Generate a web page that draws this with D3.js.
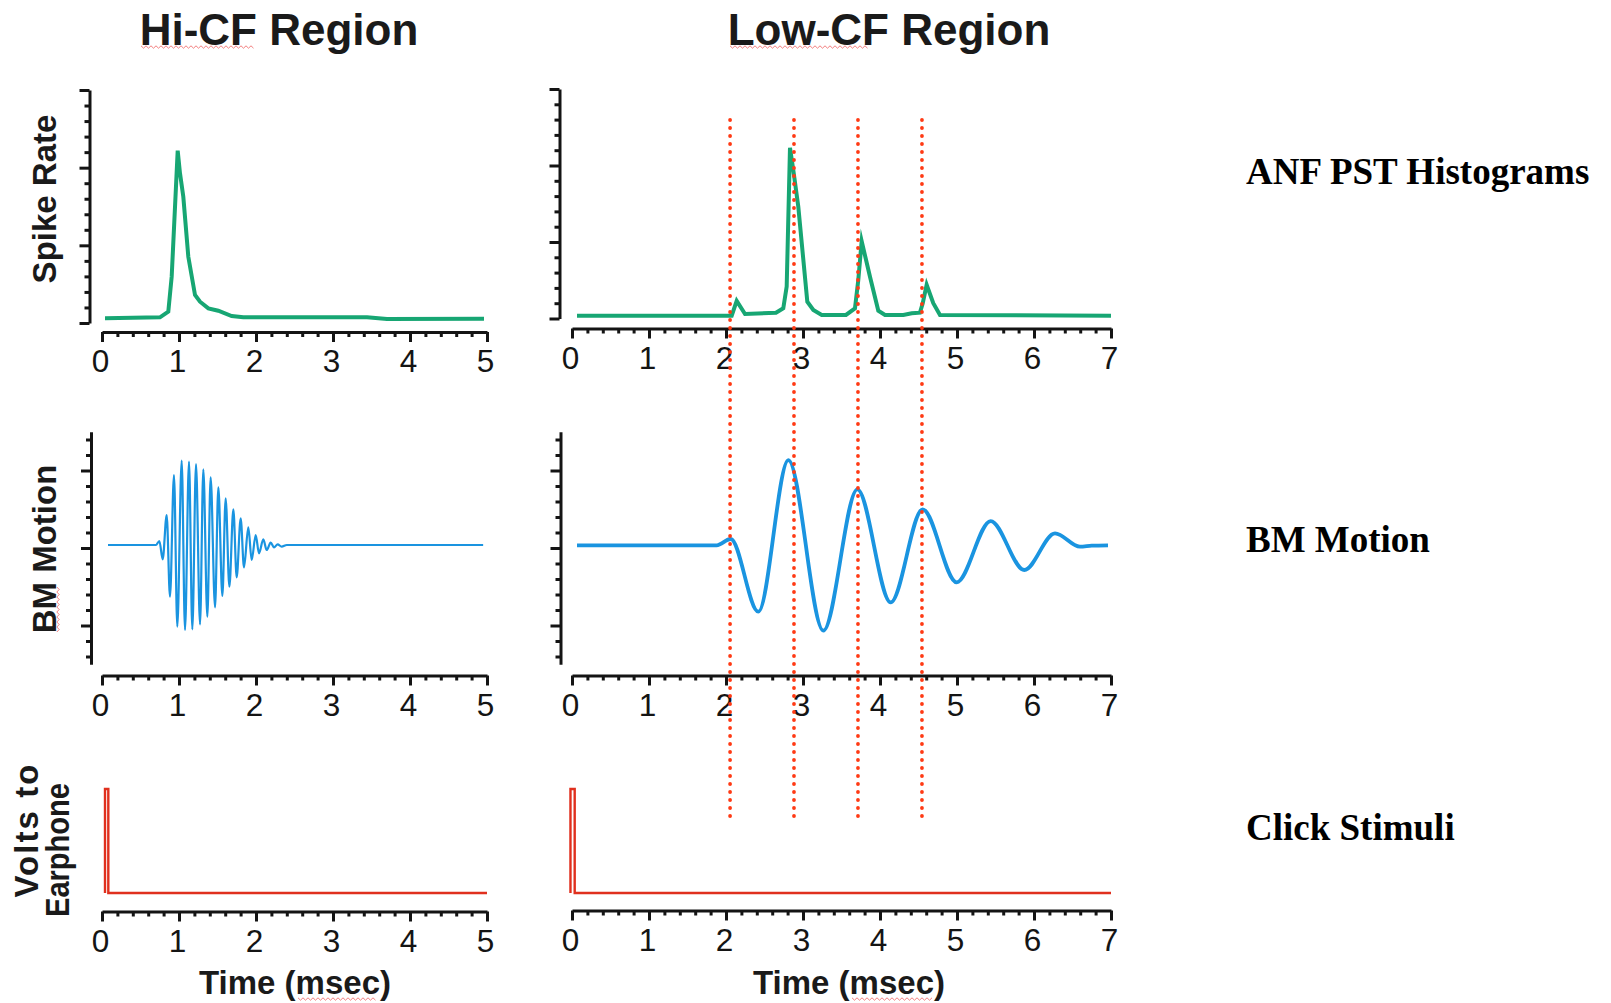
<!DOCTYPE html>
<html><head><meta charset="utf-8">
<script src="https://cdn.jsdelivr.net/npm/d3@7"></script>
<style>
body{margin:0;background:#fff}
svg{display:block}
.axis path,.axis line{stroke:#141414;stroke-width:3}
.axis text{font-family:"Liberation Sans",Arial,Helvetica,sans-serif;font-size:31.5px;fill:#141414}
.lab{font-family:"Liberation Sans",Arial,Helvetica,sans-serif;font-weight:bold;fill:#1a1a1a}
.rlab{font-family:"Liberation Serif","Times New Roman",serif;font-weight:bold;fill:#000}
</style></head><body>
<svg id="chart" width="1611" height="1003"></svg>
<script>
// ---------------- data ----------------
const hiTimeTicks = [0,1,2,3,4,5];
const loTimeTicks = [0,1,2,3,4,5,6,7];
const spikeTicks = [0,1,2,3];
const bmTicks = [-1,0,1];

// ANF PST histogram, Hi-CF region: [time ms, rate]
const hiSpike = [[0.039,0.060],[0.753,0.073],[0.861,0.145],[0.905,0.596],[0.983,2.220],[1.013,1.927],
  [1.056,1.625],[1.121,0.853],[1.208,0.360],[1.273,0.274],[1.381,0.189],[1.510,0.158],[1.684,0.090],
  [1.835,0.073],[3.442,0.073],[3.701,0.051],[4.961,0.055]];

// ANF PST histogram, Low-CF region
const loSpike = [[0.065,0.037],[2.074,0.037],[2.139,0.230],[2.247,0.059],[2.649,0.076],[2.744,0.133],
  [2.788,0.416],[2.831,2.230],[2.874,1.941],[2.939,1.461],[3.056,0.220],[3.134,0.111],[3.243,0.046],
  [3.558,0.046],[3.675,0.133],[3.718,0.503],[3.762,1.010],[3.870,0.546],[3.978,0.102],[4.065,0.046],
  [4.303,0.046],[4.412,0.068],[4.519,0.076],[4.555,0.199],[4.606,0.440],[4.692,0.199],[4.779,0.046],
  [7.000,0.037]];

// BM motion, Hi-CF region (baseline and read-off peaks / troughs)
const hiBM = [[0.078,0.039],[0.700,0.039],[0.745,0.090],[0.788,-0.146],[0.840,0.426],[0.883,-0.628],
  [0.935,0.942],[0.978,-1.015],[1.035,1.127],[1.078,-1.058],[1.130,1.114],[1.173,-1.049],[1.221,1.084],
  [1.273,-0.985],[1.316,1.015],[1.368,-0.886],[1.411,0.912],[1.468,-0.766],[1.511,0.783],[1.563,-0.619],
  [1.606,0.641],[1.654,-0.499],[1.706,0.499],[1.749,-0.378],[1.801,0.383],[1.844,-0.249],[1.900,0.267],
  [1.944,-0.155],[1.996,0.168],[2.039,-0.069],[2.095,0.112],[2.139,-0.026],[2.191,0.069],[2.234,0.009],
  [2.281,0.047],[2.333,0.017],[2.400,0.039],[4.950,0.039]];

// BM motion, Low-CF region
const loBM = [[0.065,0.035],[1.879,0.035],[2.061,0.116],[2.420,-0.822],[2.810,1.135],[3.264,-1.067],
  [3.706,0.757],[4.139,-0.701],[4.554,0.499],[4.996,-0.443],[5.437,0.348],[5.874,-0.284],[6.273,0.189],
  [6.597,0.017],[6.750,0.030],[6.961,0.035]];

// click stimuli (volts, normalised)
const hiClick = [[0.039,0],[0.039,1],[0.082,1],[0.082,0],[5.0,0]];
const loClick = [[-0.020,0],[-0.020,1],[0.035,1],[0.035,0],[7.0,0]];

// peak-alignment guide times (ms), Low-CF
const guideTimes = [2.053,2.883,3.714,4.545];

// ---------------- drawing ----------------
const svg = d3.select("#chart");
const GREEN = "#17a673", BLUE = "#1a94e0", RED = "#e0301e", DOT = "#ff3a14";

const hiX = d3.scaleLinear().domain([0,5]).range([102,487]);
const loX = d3.scaleLinear().domain([0,7]).range([572,1111]);

function minorTicks(lo, hi, step) {
  return d3.range(Math.round(lo/step), Math.round(hi/step)+1).map(i => +(i*step).toFixed(4))
    .filter(v => Math.abs(v - Math.round(v)) > 1e-6);
}

function xAxis(x, yPos, ticks) {
  const g = svg.append("g").attr("class","axis").attr("transform",`translate(0,${yPos})`);
  g.call(d3.axisBottom(x).tickValues(ticks).tickSize(10).tickPadding(8).tickSizeOuter(0).tickFormat(d3.format("d")));
  g.selectAll(".tick text").attr("dx", -2);
  const m = svg.append("g").attr("class","axis").attr("transform",`translate(0,${yPos})`);
  m.call(d3.axisBottom(x).tickValues(minorTicks(x.domain()[0], x.domain()[1], 0.2)).tickSize(5).tickSizeOuter(0).tickFormat(""));
  m.select(".domain").remove();
}
function yAxis(y, xPos, ticks) {
  const g = svg.append("g").attr("class","axis").attr("transform",`translate(${xPos},0)`);
  g.call(d3.axisLeft(y).tickValues(ticks).tickSize(10).tickSizeOuter(0).tickFormat(""));
  const m = svg.append("g").attr("class","axis").attr("transform",`translate(${xPos},0)`);
  const [a,b] = y.domain();
  m.call(d3.axisLeft(y).tickValues(minorTicks(a, b, 0.2).filter(v => v > a + 1e-6 && v < b - 1e-6)).tickSize(5).tickSizeOuter(0).tickFormat(""));
  m.select(".domain").remove();
}
function trace(x, y, data, color, width, curve) {
  svg.append("path").datum(data)
    .attr("fill","none").attr("stroke",color).attr("stroke-width",width)
    .attr("stroke-linejoin","miter").attr("stroke-miterlimit",10)
    .attr("d", d3.line().x(d => x(d[0])).y(d => y(d[1])).curve(curve));
}

// --- Hi-CF column ---
const hiSpikeY = d3.scaleLinear().domain([0,3]).range([323,90]);
const hiBMY = d3.scaleLinear().domain([-1.5,1.5]).range([664.25,431.75]);
const hiClickY = d3.scaleLinear().domain([0,1]).range([893,789]);
yAxis(hiSpikeY, 89.5, spikeTicks);
xAxis(hiX, 332, hiTimeTicks);
yAxis(hiBMY, 91, bmTicks);
xAxis(hiX, 675.5, hiTimeTicks);
xAxis(hiX, 911.5, hiTimeTicks);
trace(hiX, hiSpikeY, hiSpike, GREEN, 4, d3.curveLinear);
trace(hiX, hiBMY, hiBM, BLUE, 2.2, d3.curveMonotoneX);
trace(hiX, hiClickY, hiClick, RED, 2.4, d3.curveLinear);

// --- Low-CF column ---
const loSpikeY = d3.scaleLinear().domain([0,3]).range([318.5,89]);
const loBMY = d3.scaleLinear().domain([-1.5,1.5]).range([664.25,431.75]);
const loClickY = d3.scaleLinear().domain([0,1]).range([893,789]);
yAxis(loSpikeY, 559.5, spikeTicks);
xAxis(loX, 328.5, loTimeTicks);
yAxis(loBMY, 560.5, bmTicks);
xAxis(loX, 675.5, loTimeTicks);
xAxis(loX, 910.5, loTimeTicks);
trace(loX, loSpikeY, loSpike, GREEN, 4, d3.curveLinear);
trace(loX, loBMY, loBM, BLUE, 3.8, d3.curveMonotoneX);
trace(loX, loClickY, loClick, RED, 2.4, d3.curveLinear);

// guides
const guideTop = 120, guideBottom = 818;
svg.append("g").selectAll("line").data(guideTimes).join("line")
  .attr("x1", d => loX(d)).attr("x2", d => loX(d))
  .attr("y1", guideTop).attr("y2", guideBottom)
  .attr("stroke", DOT).attr("stroke-width", 3.8)
  .attr("stroke-linecap","round").attr("stroke-dasharray","0 8");

// ---------------- text ----------------
function txt(cls, x, y, s, size, anchor, rot) {
  const t = svg.append("text").attr("class", cls).attr("font-size", size)
    .attr("text-anchor", anchor || "start").text(s);
  if (rot) t.attr("transform", `translate(${x},${y}) rotate(${rot})`);
  else t.attr("x", x).attr("y", y);
  return t;
}
txt("lab", 279, 45, "Hi-CF Region", 44, "middle");
txt("lab", 889, 45, "Low-CF Region", 44, "middle");
txt("lab", 56, 199, "Spike Rate", 33, "middle", -90);
txt("lab", 56, 549, "BM Motion", 33, "middle", -90);
txt("lab", 38, 831, "Volts to", 33, "middle", -90).attr("textLength", 133).attr("lengthAdjust", "spacing");
txt("lab", 69, 850, "Earphone", 33, "middle", -90).attr("textLength", 134).attr("lengthAdjust", "spacingAndGlyphs");
txt("lab", 295, 994, "Time (msec)", 33, "middle");
txt("lab", 849, 994, "Time (msec)", 33, "middle");
txt("rlab", 1246, 184, "ANF PST Histograms", 37);
txt("rlab", 1246, 552, "BM Motion", 37);
txt("rlab", 1246, 840, "Click Stimuli", 37);

// spell-check squiggles present in the source image
function squiggle(x0, x1, y, vertical) {
  const pts = d3.range(0, Math.floor((x1 - x0) / 2.5) + 1).map(i => [x0 + i * 2.5, y + (i % 2 ? 1.2 : -1.2)]);
  const p = svg.append("path").attr("fill","none").attr("stroke","#f06060").attr("stroke-width",1).attr("opacity",0.8)
    .attr("d", d3.line()(vertical ? pts.map(([a,b]) => [b, a]) : pts));
  return p;
}
squiggle(141, 255, 47);
squiggle(730, 868, 47);
squiggle(587, 633, 58, true);
squiggle(298, 377, 999);
squiggle(852, 932, 999);
</script>
</body></html>
